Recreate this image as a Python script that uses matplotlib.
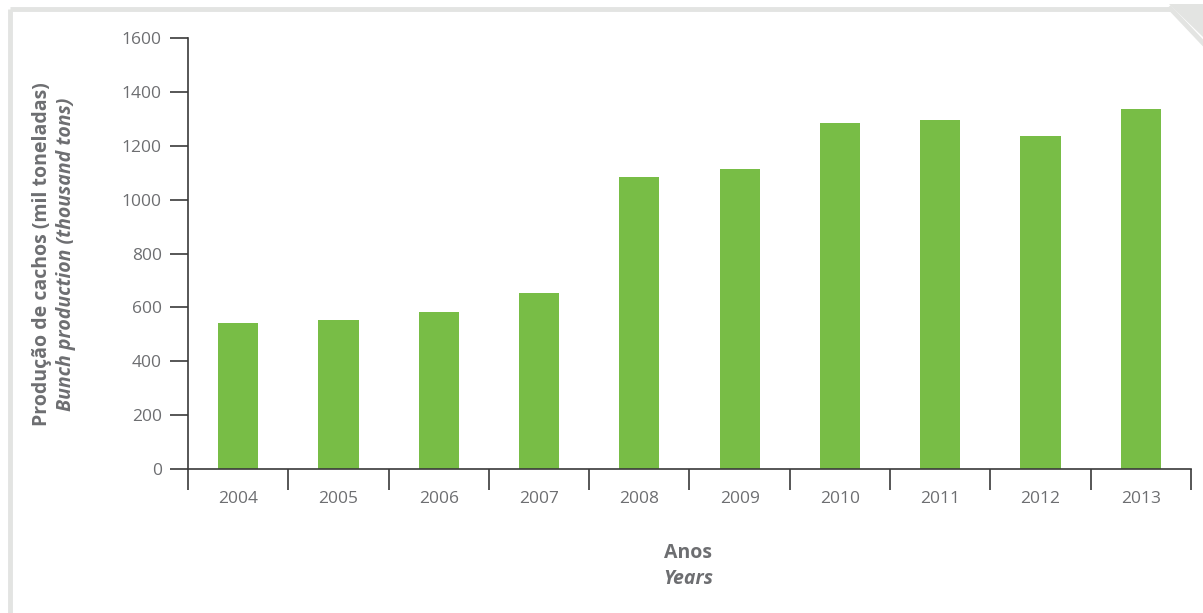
import matplotlib.pyplot as plt
from matplotlib.lines import Line2D
from matplotlib.patches import Polygon

plt.rcParams['font.family'] = ['Open Sans', 'DejaVu Sans']

years = ['2004', '2005', '2006', '2007', '2008', '2009', '2010', '2011', '2012', '2013']
production = [542, 553, 583, 653, 1084, 1114, 1284, 1295, 1236, 1336]
yticks = [0, 200, 400, 600, 800, 1000, 1200, 1400, 1600]

BAR_COLOR = '#78bd46'
TEXT_GRAY = '#6d6e71'
AXIS_COLOR = '#3a3a3a'
FRAME_GRAY = '#e3e4e2'

fig = plt.figure(figsize=(12.03, 6.13), dpi=100)

# light frame around the panel (top and left edges, clipped corner top right)
fig.add_artist(Line2D([0.0083, 0.0083], [0.0, 0.986], transform=fig.transFigure,
                      color=FRAME_GRAY, lw=3.5, solid_capstyle='butt'))
fig.add_artist(Line2D([0.0083, 0.973], [0.986, 0.986], transform=fig.transFigure,
                      color=FRAME_GRAY, lw=3.5, solid_capstyle='butt'))
fig.add_artist(Polygon([[0.972, 0.993], [1.0, 0.993], [1.0, 0.94]], closed=True,
                       transform=fig.transFigure, facecolor=FRAME_GRAY, edgecolor='none'))
fig.add_artist(Line2D([0.973, 1.0], [0.986, 0.93], transform=fig.transFigure,
                      color=FRAME_GRAY, lw=3.5))

ax = fig.add_axes([0.1563, 0.2349, 0.8337, 0.7031])

x = range(len(years))
ax.bar(x, production, width=0.4, color=BAR_COLOR, zorder=2)

ax.set_xlim(-0.5, len(years) - 0.5)
ax.set_ylim(0, 1600)
ax.set_yticks(yticks)
ax.set_yticklabels([str(v) for v in yticks])

# year labels centred under bars, tick marks at category boundaries
ax.set_xticks([i - 0.5 for i in range(len(years) + 1)])
ax.set_xticklabels([])
ax.set_xticks(list(x), minor=True)
ax.set_xticklabels(years, minor=True)
ax.tick_params(axis='x', which='major', direction='out', length=15, width=1.2,
               color=AXIS_COLOR)
ax.tick_params(axis='x', which='minor', length=0, pad=16, labelsize=12.5,
               labelcolor=TEXT_GRAY)
ax.tick_params(axis='y', direction='out', length=13, width=1.2, color=AXIS_COLOR,
               labelsize=12.5, labelcolor=TEXT_GRAY, pad=6)

for side in ['top', 'right']:
    ax.spines[side].set_visible(False)
for side in ['left', 'bottom']:
    ax.spines[side].set_color(AXIS_COLOR)
    ax.spines[side].set_linewidth(1.2)

# axis titles (Portuguese bold, English bold italic)
fig.text(0.035, 0.585, 'Produção de cachos (mil toneladas)', rotation=90,
         ha='center', va='center', fontsize=14, fontweight='bold', color=TEXT_GRAY)
fig.text(0.055, 0.585, 'Bunch production (thousand tons)', rotation=90,
         ha='center', va='center', fontsize=14, fontstyle='italic', fontweight='bold',
         color=TEXT_GRAY)
fig.text(0.572, 0.098, 'Anos', ha='center', va='center', fontsize=14,
         fontweight='bold', color=TEXT_GRAY)
fig.text(0.572, 0.056, 'Years', ha='center', va='center', fontsize=14,
         fontstyle='italic', fontweight='bold', color=TEXT_GRAY)

fig.savefig('out.png', dpi=100)
